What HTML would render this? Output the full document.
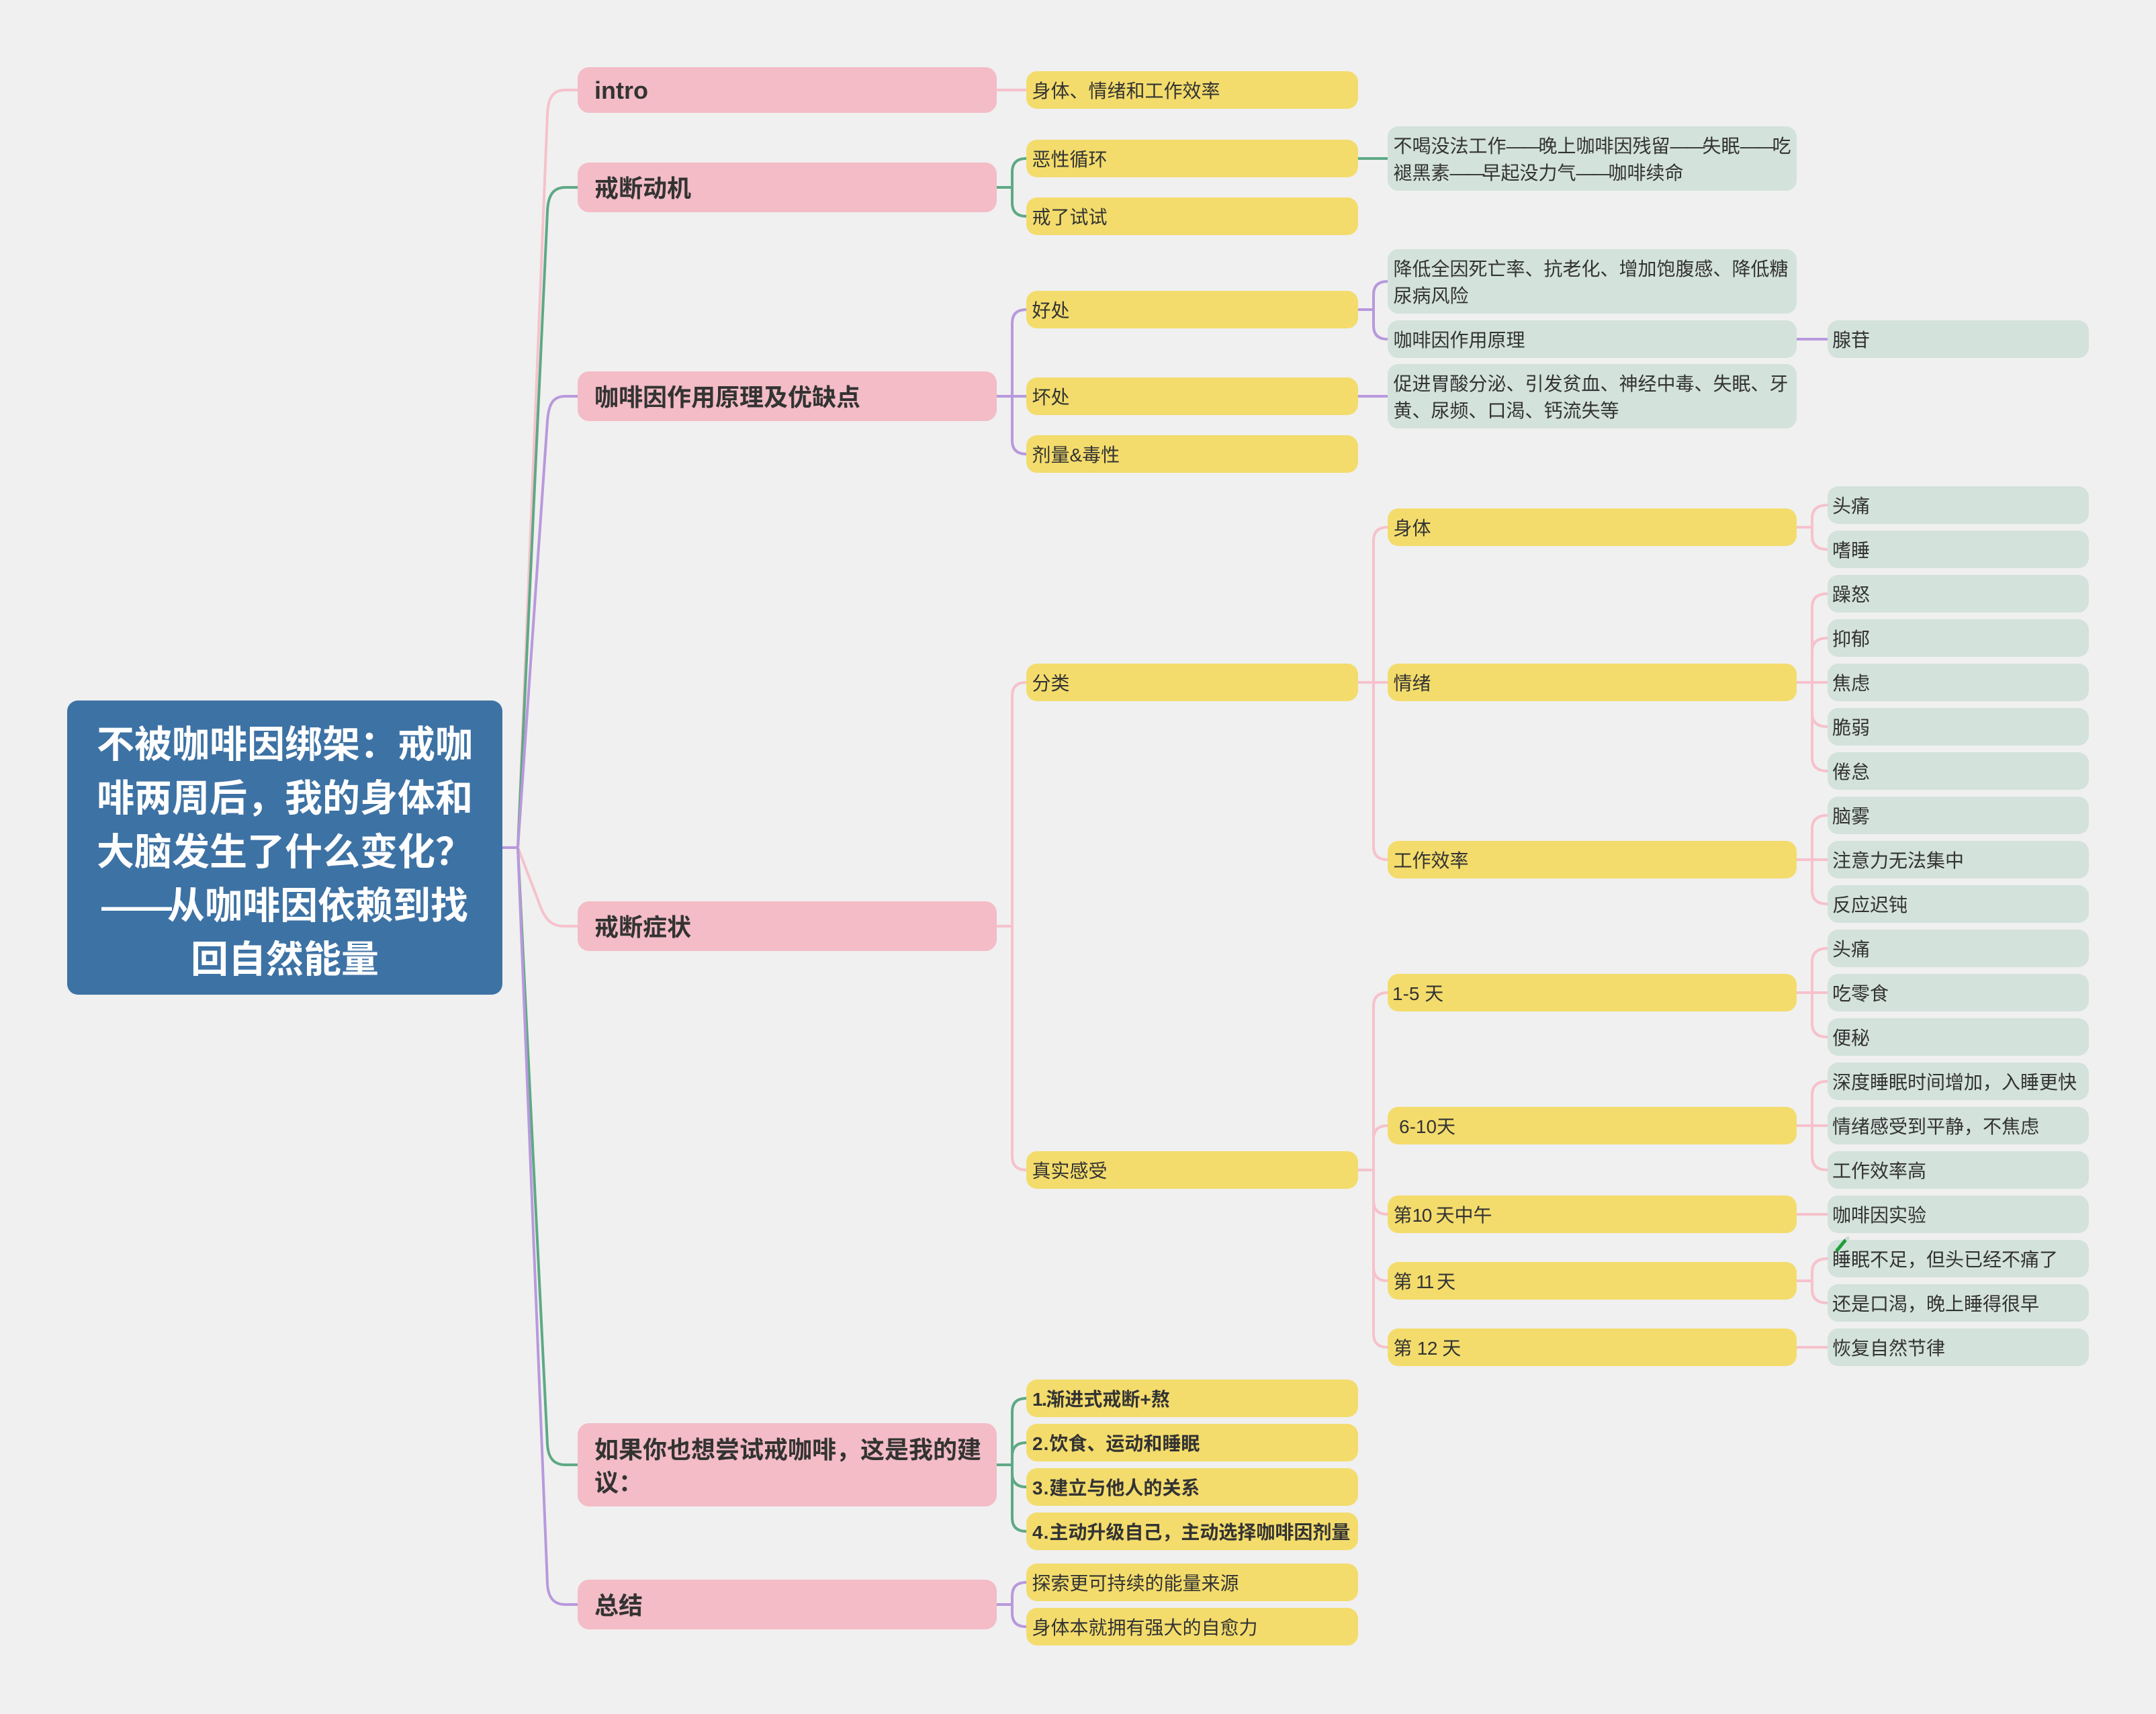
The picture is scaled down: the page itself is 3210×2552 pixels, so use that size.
<!DOCTYPE html>
<html lang="zh">
<head>
<meta charset="utf-8">
<title>不被咖啡因绑架</title>
<style>
html,body{margin:0;padding:0;background:#f0f0f0}
body{position:relative;width:3210px;height:2552px;overflow:hidden;font-family:"Liberation Sans","Noto Sans CJK SC",sans-serif;color:#333}
svg{position:absolute;left:0;top:0}
path{fill:none;stroke-width:4}
.pk{stroke:#f6c2cc}.gr{stroke:#5ea985}.pu{stroke:#b899dc}
.n{position:absolute;display:flex;align-items:center;box-sizing:border-box;white-space:nowrap}
.n>span{display:block;position:relative;top:2px}
.r{left:100px;top:1043px;width:648px;height:438px;background:#3d72a4;border-radius:16px;color:#fff;font-size:56px;font-weight:700;line-height:80px;justify-content:center;text-align:center}
.r>span{top:7px}
.p{left:860px;width:624px;height:74px;background:#f3bcc6;border-radius:17px;padding-left:25px;font-size:36px;font-weight:700;line-height:50px}
.a,.b,.c{height:56px;border-radius:16px;font-size:28px;line-height:40px;padding-left:7px}
.a{left:1528px;width:494px;background:#f3dc6c;padding-left:8.5px}
.b{left:2066px;width:609px;background:#f3dc6c;padding-left:8.5px}
.b.g{background:#d3e2db}
.c{left:2721px;width:389px;background:#d3e2db}
.t{height:96px}
.s{font-weight:700;padding-left:9px}
.d{letter-spacing:-4px}
.rd{letter-spacing:-7px}
</style>
</head>
<body>
<svg width="3210" height="2552" viewBox="0 0 3210 2552">
<path class="pk" d="M771 1262L815 170C816 144 824 134 842 134H860"/>
<path class="gr" d="M771 1262L815 315C816 290 824 279 842 279H860"/>
<path class="pu" d="M771 1262L815 627C817 600 824 590 842 590H860"/>
<path class="pk" d="M771 1262L801 1340C810 1368 820 1379 840 1379H860"/>
<path class="gr" d="M771 1262L815 2150C816 2170 824 2181 842 2181H860"/>
<path class="pu" d="M771 1262L815 2358C816 2378 824 2389 842 2389H860"/>
<path class="pu" d="M748 1262H771"/>

<path class="pk" d="M1484 134H1528"/>
<path class="gr" d="M1484 279H1507M1528 236Q1507 236 1507 256V302Q1507 322 1528 322M2022 236H2066"/>
<path class="pu" d="M1484 590H1528M1528 461Q1507 461 1507 481V656Q1507 676 1528 676M2022 461H2045M2066 419Q2045 419 2045 439V485Q2045 505 2066 505M2022 590H2066M2675 505H2721"/>
<path class="pk" d="M1484 1379H1507M1528 1016Q1507 1016 1507 1036V1722Q1507 1742 1528 1742"/>
<path class="pk" d="M2022 1016H2066M2066 785Q2045 785 2045 805V1260Q2045 1280 2066 1280"/>
<path class="pk" d="M2022 1742H2045M2066 1478Q2045 1478 2045 1498V1986Q2045 2006 2066 2006M2045 1696Q2045 1676 2066 1676M2045 1788Q2045 1808 2066 1808M2045 1887Q2045 1907 2066 1907"/>
<path class="pk" d="M2675 785H2698M2721 752Q2698 752 2698 772V798Q2698 818 2721 818"/>
<path class="pk" d="M2675 1016H2721M2721 884Q2698 884 2698 904V1128Q2698 1148 2721 1148M2698 970Q2698 950 2721 950M2698 1062Q2698 1082 2721 1082"/>
<path class="pk" d="M2675 1280H2721M2721 1214Q2698 1214 2698 1234V1326Q2698 1346 2721 1346"/>
<path class="pk" d="M2675 1478H2721M2721 1412Q2698 1412 2698 1432V1524Q2698 1544 2721 1544"/>
<path class="pk" d="M2675 1676H2721M2721 1610Q2698 1610 2698 1630V1722Q2698 1742 2721 1742"/>
<path class="pk" d="M2675 1808H2721M2675 1907H2698M2721 1874Q2698 1874 2698 1894V1920Q2698 1940 2721 1940M2675 2006H2721"/>
<path class="gr" d="M1484 2181H1507M1528 2082Q1507 2082 1507 2102V2260Q1507 2280 1528 2280M1507 2168Q1507 2148 1528 2148M1507 2194Q1507 2214 1528 2214"/>
<path class="pu" d="M1484 2389H1507M1528 2356Q1507 2356 1507 2376V2402Q1507 2422 1528 2422"/>
</svg>

<div class="n r"><span>不被咖啡因绑架：戒咖<br>啡两周后，我的身体和<br>大脑发生了什么变化？<br><span class="rd">——</span>从咖啡因依赖到找<br>回自然能量</span></div>

<div class="n p" style="top:100px;height:68px"><span style="top:1px">intro</span></div>
<div class="n p" style="top:242px"><span>戒断动机</span></div>
<div class="n p" style="top:553px"><span>咖啡因作用原理及优缺点</span></div>
<div class="n p" style="top:1342px"><span>戒断症状</span></div>
<div class="n p" style="top:2119px;height:124px;line-height:49px"><span>如果你也想尝试戒咖啡，这是我的建<br>议：</span></div>
<div class="n p" style="top:2352px"><span>总结</span></div>

<div class="n a" style="top:106px"><span>身体、情绪和工作效率</span></div>
<div class="n a" style="top:208px"><span>恶性循环</span></div>
<div class="n a" style="top:294px"><span>戒了试试</span></div>
<div class="n a" style="top:433px"><span>好处</span></div>
<div class="n a" style="top:562px"><span>坏处</span></div>
<div class="n a" style="top:648px"><span>剂量&amp;毒性</span></div>
<div class="n a" style="top:988px"><span>分类</span></div>
<div class="n a" style="top:1714px"><span>真实感受</span></div>
<div class="n a s" style="top:2054px"><span><span style="letter-spacing:-1.5px">1.</span>渐进式戒断+熬</span></div>
<div class="n a s" style="top:2120px"><span><span style="letter-spacing:1px">2.</span>饮食、运动和睡眠</span></div>
<div class="n a s" style="top:2186px"><span><span style="letter-spacing:1px">3.</span>建立与他人的关系</span></div>
<div class="n a s" style="top:2252px"><span><span style="letter-spacing:1px">4.</span>主动升级自己，主动选择咖啡因剂量</span></div>
<div class="n a" style="top:2328px"><span>探索更可持续的能量来源</span></div>
<div class="n a" style="top:2394px"><span>身体本就拥有强大的自愈力</span></div>

<div class="n b g t" style="top:188px"><span>不喝没法工作<span class="d">——</span>晚上咖啡因残留<span class="d">——</span>失眠<span class="d">——</span>吃<br>褪黑素<span class="d">——</span>早起没力气<span class="d">——</span>咖啡续命</span></div>
<div class="n b g t" style="top:371px"><span>降低全因死亡率、抗老化、增加饱腹感、降低糖<br>尿病风险</span></div>
<div class="n b g" style="top:477px"><span>咖啡因作用原理</span></div>
<div class="n b g t" style="top:542px"><span>促进胃酸分泌、引发贫血、神经中毒、失眠、牙<br>黄、尿频、口渴、钙流失等</span></div>
<div class="n b" style="top:757px"><span>身体</span></div>
<div class="n b" style="top:988px"><span>情绪</span></div>
<div class="n b" style="top:1252px"><span>工作效率</span></div>
<div class="n b" style="top:1450px;padding-left:7px"><span>1-5 天</span></div>
<div class="n b" style="top:1648px;padding-left:17px"><span>6-10天</span></div>
<div class="n b" style="top:1780px"><span>第<span style="letter-spacing:-1.3px">10 </span>天中午</span></div>
<div class="n b" style="top:1879px"><span>第<span style="letter-spacing:-2px"> 11 </span>天</span></div>
<div class="n b" style="top:1978px"><span>第<span style="letter-spacing:-.5px"> 12 </span>天</span></div>

<div class="n c" style="top:477px"><span>腺苷</span></div>
<div class="n c" style="top:724px"><span>头痛</span></div>
<div class="n c" style="top:790px"><span>嗜睡</span></div>
<div class="n c" style="top:856px"><span>躁怒</span></div>
<div class="n c" style="top:922px"><span>抑郁</span></div>
<div class="n c" style="top:988px"><span>焦虑</span></div>
<div class="n c" style="top:1054px"><span>脆弱</span></div>
<div class="n c" style="top:1120px"><span>倦怠</span></div>
<div class="n c" style="top:1186px"><span>脑雾</span></div>
<div class="n c" style="top:1252px"><span>注意力无法集中</span></div>
<div class="n c" style="top:1318px"><span>反应迟钝</span></div>
<div class="n c" style="top:1384px"><span>头痛</span></div>
<div class="n c" style="top:1450px"><span>吃零食</span></div>
<div class="n c" style="top:1516px"><span>便秘</span></div>
<div class="n c" style="top:1582px"><span>深度睡眠时间增加，入睡更快</span></div>
<div class="n c" style="top:1648px"><span>情绪感受到平静，不焦虑</span></div>
<div class="n c" style="top:1714px"><span>工作效率高</span></div>
<div class="n c" style="top:1780px"><span>咖啡因实验</span></div>
<div class="n c" style="top:1846px"><span>睡眠不足，但头已经不痛了</span></div>
<div class="n c" style="top:1912px"><span>还是口渴，晚上睡得很早</span></div>
<div class="n c" style="top:1978px"><span>恢复自然节律</span></div>

<svg width="3210" height="2552" viewBox="0 0 3210 2552">
<path d="M2734 1863L2748 1846" style="stroke:#1f9d38;stroke-width:5"/>
<path d="M2748 1846L2753 1842" style="stroke:#cfd8d2;stroke-width:5"/>
</svg>
</body>
</html>
